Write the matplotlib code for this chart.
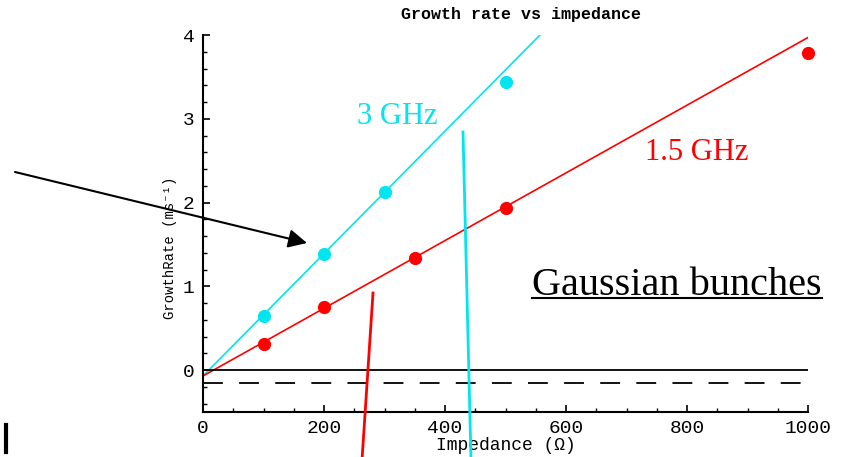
import matplotlib.pyplot as plt
from matplotlib.lines import Line2D

# measured points
imp_3ghz = [100, 200, 300, 500]
rate_3ghz = [0.65, 1.38, 2.13, 3.44]
imp_15ghz = [100, 200, 350, 500, 1000]
rate_15ghz = [0.31, 0.75, 1.34, 1.93, 3.78]

# fitted lines (end points)
fit_3ghz_x = [0, 557]
fit_3ghz_y = [-0.07, 4.0]
fit_15ghz_x = [0, 1000]
fit_15ghz_y = [-0.07, 3.97]

threshold = -0.15

W, H = 843, 457
CYAN = '#00e5ee'
MONO = ['Liberation Mono', 'DejaVu Sans Mono']
SERIF = ['Liberation Serif', 'DejaVu Serif']


def fig_xy(x, y):
    # image pixel -> figure fraction
    return x / W, 1 - y / H


fig = plt.figure(figsize=(W / 100, H / 100), dpi=100)
ax = fig.add_axes([203 / W, 1 - 412 / H, 605 / W, 377 / H])

ax.plot(fit_3ghz_x, fit_3ghz_y, color=CYAN, lw=1.2)
ax.plot(fit_15ghz_x, fit_15ghz_y, color='red', lw=1.2)
ax.plot(imp_3ghz, rate_3ghz, 'o', color=CYAN, ms=8.5, clip_on=False)
ax.plot(imp_15ghz, rate_15ghz, 'o', color='red', ms=8.5, clip_on=False)
ax.axhline(0, color='black', lw=1.3)
ax.axhline(threshold, color='black', lw=1.3, dashes=(11, 9))

ax.set_xlim(0, 1000)
ax.set_ylim(-0.5, 4)
for s in ['top', 'right']:
    ax.spines[s].set_visible(False)
for s in ['left', 'bottom']:
    ax.spines[s].set_linewidth(1.5)
ax.set_xticks([0, 200, 400, 600, 800, 1000])
ax.set_xticks(range(0, 1001, 50), minor=True)
ax.set_yticks([0, 1, 2, 3, 4])
ax.set_yticks([i / 5 for i in range(-2, 21)], minor=True)
ax.tick_params(direction='in', length=5, width=1.2, labelsize=14, pad=6)
ax.tick_params(which='minor', direction='in', length=3, width=1)
for lab in ax.get_xticklabels() + ax.get_yticklabels():
    lab.set_family(MONO)

ax.set_xlabel('Impedance (Ω)', family=MONO, fontsize=13, labelpad=0)
fig.text(*fig_xy(170, 248), 'GrowthRate (ms⁻¹)', family=MONO, fontsize=10,
         rotation=90, ha='center', va='center')
fig.text(*fig_xy(521, 15), 'Growth rate vs impedance', family=MONO,
         fontsize=12, ha='center', va='center', weight='bold')

fig.text(*fig_xy(397, 117), '3 GHz', color=CYAN, family=SERIF, fontsize=22,
         ha='center', va='center')
fig.text(*fig_xy(697, 152), '1.5 GHz', color='red', family=SERIF, fontsize=22,
         ha='center', va='center')
gb = fig.text(*fig_xy(532, 295), 'Gaussian bunches', family=SERIF, fontsize=29,
              ha='left', va='baseline')

# annotation arrow and marker lines
ax.annotate('', xy=fig_xy(307, 243), xytext=fig_xy(15, 172),
            xycoords='figure fraction', textcoords='figure fraction',
            arrowprops=dict(arrowstyle='-|>', color='black', lw=1.5,
                            mutation_scale=28, shrinkA=0, shrinkB=0))
for (x0, y0), (x1, y1), c in [((373, 293), (362, 460), 'red'),
                              ((463, 132), (471, 460), CYAN),
                              ((6, 425), (6, 452), 'black')]:
    a, b = fig_xy(x0, y0)
    c2, d = fig_xy(x1, y1)
    fig.add_artist(Line2D([a, c2], [b, d], color=c, lw=2 if c != 'black' else 3))

# underline under "Gaussian bunches"
fig.canvas.draw()
bb = gb.get_window_extent().transformed(fig.transFigure.inverted())
uy = fig_xy(0, 298)[1]
fig.add_artist(Line2D([bb.x0, bb.x1], [uy, uy], color='black', lw=1.5))

fig.savefig('out.png', dpi=100)
